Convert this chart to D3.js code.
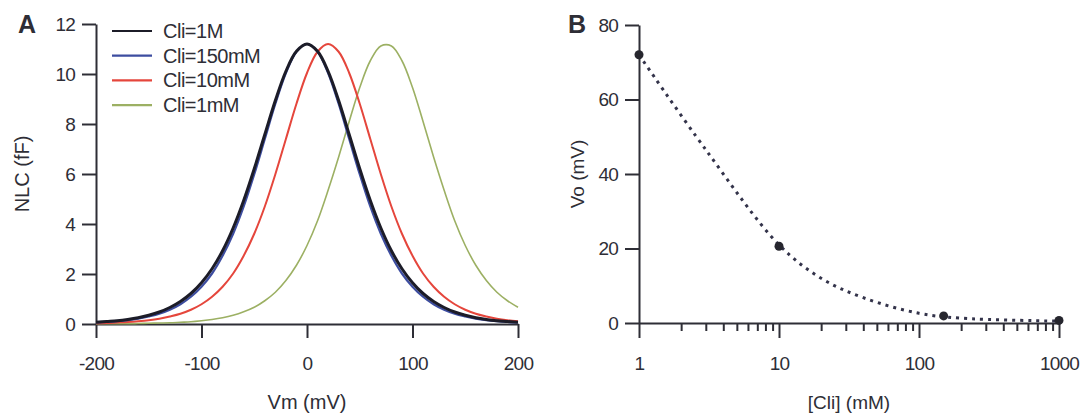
<!DOCTYPE html>
<html>
<head>
<meta charset="utf-8">
<script src="https://cdn.jsdelivr.net/npm/d3@7"></script>
<style>
  body { margin: 0; background: #fff; }
  text { font-family: "Liberation Sans", Arial, sans-serif; fill: #2e2e36; }
  .axis path, .axis line { stroke: #2e2e36; stroke-width: 2; }
  .axis text { font-size: 19px; fill: #2e2e36; letter-spacing: -0.8px; }
</style>
</head>
<body>
<div id="chart"></div>
<script>
// panel A: NLC vs membrane potential
let vm = [-200, -190, -180, -170, -160, -150, -140, -130, -120, -110,
          -100, -90, -80, -70, -60, -50, -40, -30, -20, -10,
          0, 10, 20, 30, 40, 50, 60, 70, 80, 90,
          100, 110, 120, 130, 140, 150, 160, 170, 180, 190, 200];

let nlc1M = [0.07, 0.10, 0.13, 0.18, 0.25, 0.35, 0.48, 0.66, 0.90, 1.22,
             1.65, 2.21, 2.93, 3.84, 4.94, 6.21, 7.58, 8.94, 10.11, 10.91,
             11.2, 10.91, 10.11, 8.94, 7.58, 6.21, 4.94, 3.84, 2.93, 2.21,
             1.65, 1.22, 0.90, 0.66, 0.48, 0.35, 0.25, 0.18, 0.13, 0.10, 0.07];

let nlc150mM = [0.06, 0.08, 0.11, 0.15, 0.21, 0.30, 0.41, 0.57, 0.79, 1.09,
                1.49, 2.02, 2.73, 3.61, 4.70, 5.99, 7.40, 8.81, 10.04, 10.89,
                11.2, 10.89, 10.04, 8.81, 7.40, 5.99, 4.70, 3.61, 2.73, 2.02,
                1.49, 1.09, 0.79, 0.57, 0.41, 0.30, 0.21, 0.15, 0.11, 0.08, 0.06];

let nlc10mM = [0.03, 0.04, 0.06, 0.08, 0.11, 0.15, 0.21, 0.30, 0.41, 0.57,
               0.79, 1.09, 1.49, 2.02, 2.73, 3.61, 4.70, 5.99, 7.40, 8.81,
               10.04, 10.89, 11.2, 10.89, 10.04, 8.81, 7.40, 5.99, 4.70, 3.61,
               2.73, 2.02, 1.49, 1.09, 0.79, 0.57, 0.41, 0.30, 0.21, 0.15, 0.11];

let nlc1mM = [0.01, 0.01, 0.01, 0.01, 0.02, 0.03, 0.04, 0.05, 0.07, 0.09,
              0.13, 0.18, 0.25, 0.35, 0.49, 0.67, 0.93, 1.27, 1.74, 2.35,
              3.14, 4.13, 5.35, 6.68, 8.10, 9.46, 10.53, 11.12, 11.12, 10.53,
              9.46, 8.10, 6.68, 5.35, 4.13, 3.14, 2.35, 1.74, 1.27, 0.93, 0.67];

let seriesNames = ["Cli=1M", "Cli=150mM", "Cli=10mM", "Cli=1mM"];
let seriesColors = ["#1c1c28", "#3d4da0", "#e5463c", "#9cb063"];
let seriesWidths = [3, 2.2, 2, 1.6];

let vmTicks = [-200, -100, 0, 100, 200];
let nlcTicks = [0, 2, 4, 6, 8, 10, 12];

// panel B: Vo vs [Cli]
let cli = [1, 10, 150, 1000];
let vo = [72, 20.6, 1.9, 0.7];

// dotted fit
let fitCli = [1, 3, 10, 20, 40, 100, 200, 1000];
let fitVo = [72, 46.5, 21, 12, 6.8, 2.6, 1.3, 0.5];

let cliTicks = [1, 10, 100, 1000];
let cliMinor = [2, 3, 4, 5, 6, 7, 8, 9, 20, 30, 40, 50, 60, 70, 80, 90,
                200, 300, 400, 500, 600, 700, 800, 900];
let voTicks = [0, 20, 40, 60, 80];

let width = 1085, height = 416;

let plain = function(d) { return String(d); };

let svg = d3.select("#chart")
  .append("svg")
    .attr("width", width)
    .attr("height", height);

// ---- panel A ----
let xA = d3.scaleLinear().domain([-200, 200]).range([96, 518]);
let yA = d3.scaleLinear().domain([0, 12]).range([324, 24]);

svg.append("g")
    .attr("class", "axis")
    .attr("transform", translate(0, yA(0)))
    .call(d3.axisBottom(xA).tickValues(vmTicks).tickSize(14).tickSizeOuter(0)
            .tickPadding(19).tickFormat(plain));

svg.append("g")
    .attr("class", "axis")
    .attr("transform", translate(xA(-200), 0))
    .call(d3.axisLeft(yA).tickValues(nlcTicks).tickSize(14).tickSizeOuter(0)
            .tickPadding(7).tickFormat(plain));

let seriesA = [nlc1mM, nlc10mM, nlc150mM, nlc1M];
let orderA = [3, 2, 1, 0];

let lineA = d3.line()
  .x(function(d, i) { return xA(vm[i]); })
  .y(function(d) { return yA(d); })
  .curve(d3.curveCatmullRom.alpha(0.5));

svg.append("g")
  .selectAll("path")
  .data(seriesA)
  .enter().append("path")
    .attr("d", lineA)
    .attr("fill", "none")
    .attr("stroke", function(d, i) { return seriesColors[orderA[i]]; })
    .attr("stroke-width", function(d, i) { return seriesWidths[orderA[i]]; });

let legend = svg.append("g")
  .selectAll("g")
  .data(seriesNames)
  .enter().append("g")
    .attr("transform", function(d, i) { return translate(112, 31 + i * 24.7); });

legend.append("line")
    .attr("x1", 0).attr("x2", 40)
    .attr("stroke", function(d, i) { return seriesColors[i]; })
    .attr("stroke-width", 2.2);

legend.append("text")
    .attr("x", 51)
    .attr("dy", "0.35em")
    .style("font-size", "20px")
    .style("letter-spacing", "-0.5px")
    .text(function(d) { return d; });

svg.append("text")
    .attr("x", 18).attr("y", 33)
    .style("font-size", "25px")
    .style("font-weight", "bold")
    .text("A");

svg.append("text")
    .attr("x", (xA(-200) + xA(200)) / 2).attr("y", 409)
    .attr("text-anchor", "middle")
    .style("font-size", "20px")
    .text("Vm (mV)");

svg.append("text")
    .attr("transform", translate(29, yA(6)) + " rotate(-90)")
    .attr("text-anchor", "middle")
    .style("font-size", "20px")
    .text("NLC (fF)");

// ---- panel B ----
let xB = d3.scaleLog().domain([1, 1000]).range([639, 1059]);
let yB = d3.scaleLinear().domain([0, 80]).range([323, 25]);

svg.append("g")
    .attr("class", "axis")
    .attr("transform", translate(0, yB(0)))
    .call(d3.axisBottom(xB).tickValues(cliMinor).tickSize(8).tickFormat(""))
    .call(function(g) { g.select(".domain").remove(); });

svg.append("g")
    .attr("class", "axis")
    .attr("transform", translate(0, yB(0)))
    .call(d3.axisBottom(xB).tickValues(cliTicks).tickSize(15).tickSizeOuter(0)
            .tickPadding(19).tickFormat(plain));

svg.append("g")
    .attr("class", "axis")
    .attr("transform", translate(xB(1), 0))
    .call(d3.axisLeft(yB).tickValues(voTicks).tickSize(14).tickSizeOuter(0)
            .tickPadding(7).tickFormat(plain));

let fit = fitCli.map(function(c, i) { return [c, fitVo[i]]; });

svg.append("path")
    .datum(fit)
    .attr("d", d3.line()
        .x(function(d) { return xB(d[0]); })
        .y(function(d) { return yB(d[1]); })
        .curve(d3.curveCatmullRom.alpha(0.5)))
    .attr("fill", "none")
    .attr("stroke", "#33334a")
    .attr("stroke-width", 3)
    .attr("stroke-dasharray", "3,5");

svg.append("g")
  .selectAll("circle")
  .data(cli)
  .enter().append("circle")
    .attr("cx", function(d) { return xB(d); })
    .attr("cy", function(d, i) { return yB(vo[i]); })
    .attr("r", 4.5)
    .attr("fill", "#26262e");

svg.append("text")
    .attr("x", 568).attr("y", 33)
    .style("font-size", "25px")
    .style("font-weight", "bold")
    .text("B");

svg.append("text")
    .attr("x", (xB(1) + xB(1000)) / 2).attr("y", 409)
    .attr("text-anchor", "middle")
    .style("font-size", "19px")
    .text("[Cli] (mM)");

svg.append("text")
    .attr("transform", translate(584, yB(40)) + " rotate(-90)")
    .attr("text-anchor", "middle")
    .style("font-size", "19px")
    .text("Vo (mV)");

function translate(x, y=0) {
  return "translate({x}, {y})"
          .replace("{x}", x)
          .replace("{y}", y);
}
</script>
</body>
</html>
